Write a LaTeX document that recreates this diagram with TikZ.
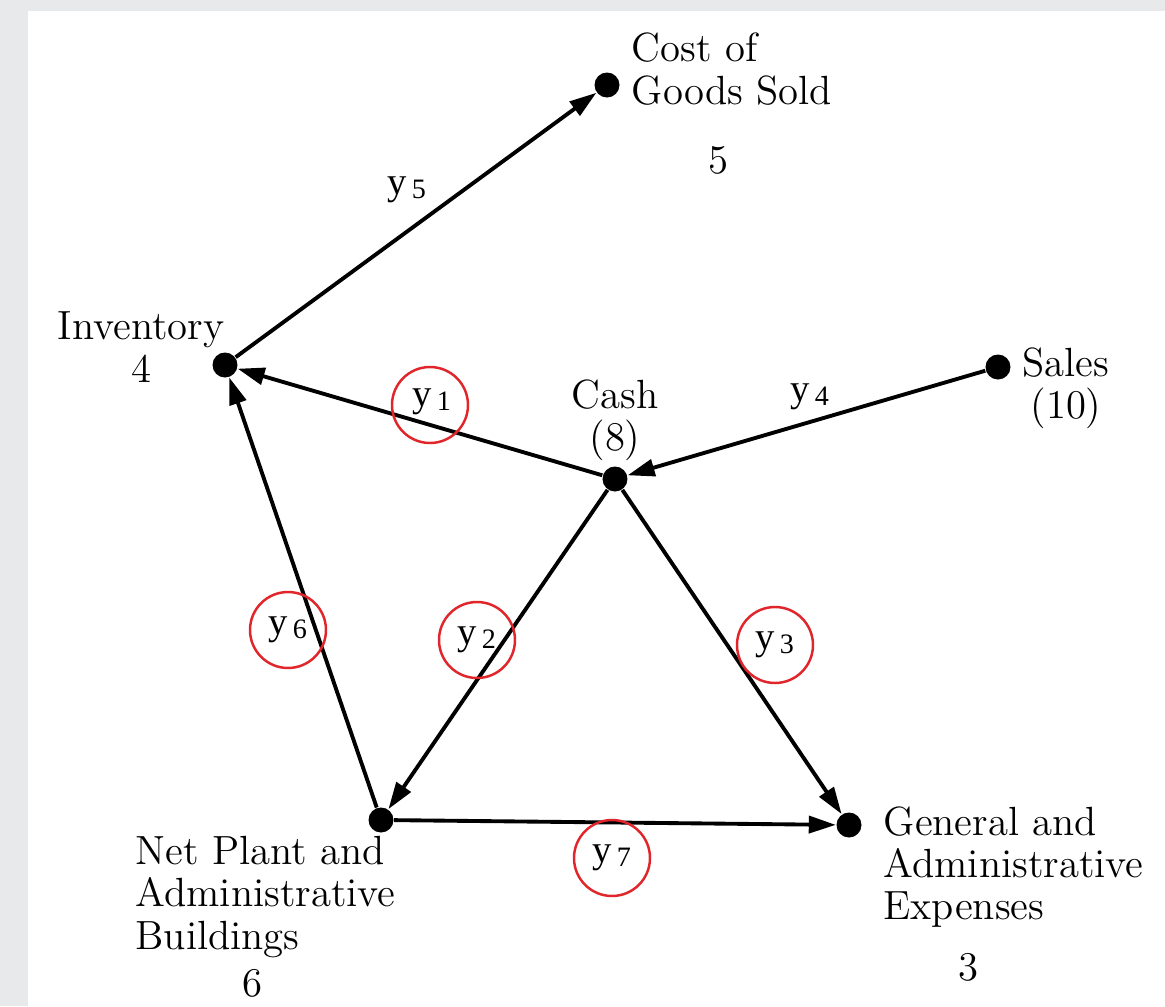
\documentclass[tikz,border=0pt]{standalone}
\usepackage{fontspec}
\usepackage{tikz}
\usetikzlibrary{positioning,arrows.meta}
\newfontfamily\ylabelfont{Liberation Serif}
\definecolor{pagegray}{HTML}{E8E9EB}
\definecolor{ringred}{HTML}{E0262B}
\tikzset{
  acct/.style      = {circle, fill=black, minimum size=0.25cm, inner sep=0pt},
  acctname/.style  = {font=\fontsize{11.6}{12}\selectfont, inner sep=0pt},
  acctnum/.style   = {font=\fontsize{11.6}{12}\selectfont, inner sep=0pt},
  flow/.style      = {draw=black, line width=1.1pt, -{Triangle[length=0.27cm,width=0.17cm]}},
  flowlbl/.style   = {font=\ylabelfont\fontsize{11}{12}\selectfont, inner sep=0pt},
  ring/.style      = {circle, draw=ringred, line width=0.7pt, minimum size=0.76cm, inner sep=0pt},
}
\newcommand{\yvar}[1]{y\raisebox{-1pt}{\fontsize{8}{8}\selectfont\,#1}}

\begin{document}
\begin{tikzpicture}[x=1cm,y=1cm]
  % page
  \fill[pagegray] (0,0) rectangle (11.65,10.06);
  \fill[white] (0.28,0) rectangle (11.65,9.95);
  \useasboundingbox (0,0) rectangle (11.65,10.06);

  % accounts
  \node[acct] (cogs)  at (6.07,9.21) {};
  \node[acct] (inv)   at (2.25,6.41) {};
  \node[acct] (cash)  at (6.15,5.27) {};
  \node[acct] (sales) at (9.98,6.39) {};
  \node[acct] (plant) at (3.81,1.86) {};
  \node[acct] (gae)   at (8.49,1.81) {};

  \node[acctname, anchor=west, align=left] (cogstxt) at (6.31,9.37) {Cost of\\Goods Sold};
  \node[acctnum] (cogsnum) at (7.18,8.46) {5};
  \node[acctname, align=center] (invtxt) at (1.41,6.59) {Inventory\\4};
  \node[acctname, align=center] (cashtxt) at (6.15,5.86) {Cash\\(8)};
  \node[acctname, align=center] (salestxt) at (10.66,6.18) {Sales\\(10)};
  \node[acctname, anchor=west, align=left] (planttxt) at (1.35,1.09) {Net Plant and\\Administrative\\Buildings};
  \node[acctnum] (plantnum) at (2.52,0.23) {6};
  \node[acctname, anchor=west, align=left] (gaetxt) at (8.83,1.39) {General and\\Administrative\\Expenses};
  \node[acctnum] (gaenum) at (9.68,0.39) {3};

  % flows
  \draw[flow] (inv) -- (cogs);
  \draw[flow] (cash) -- (inv);
  \draw[flow] (sales) -- (cash);
  \draw[flow] (cash) -- (plant);
  \draw[flow] (cash) -- (gae);
  \draw[flow] (plant) -- (inv);
  \draw[flow] (plant) -- (gae);

  % flow variables
  \node[flowlbl] (y5) at (4.07,8.16) {\yvar{5}};
  \node[flowlbl] (y4) at (8.10,6.09) {\yvar{4}};
  \node[flowlbl] (y1) at (4.32,6.04) {\yvar{1}};
  \node[flowlbl] (y2) at (4.77,3.66) {\yvar{2}};
  \node[flowlbl] (y3) at (7.75,3.61) {\yvar{3}};
  \node[flowlbl] (y6) at (2.88,3.76) {\yvar{6}};
  \node[flowlbl] (y7) at (6.12,1.48) {\yvar{7}};

  % marked variables
  \node[ring] at (4.30,6.01) {};
  \node[ring] at (4.77,3.66) {};
  \node[ring] at (7.75,3.61) {};
  \node[ring] at (2.88,3.76) {};
  \node[ring] at (6.12,1.48) {};
\end{tikzpicture}
\end{document}
